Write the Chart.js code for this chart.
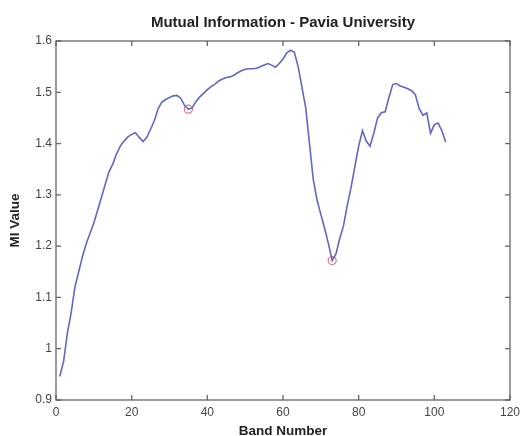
<!DOCTYPE html>
<html>
<head>
<meta charset="utf-8">
<script src="https://cdn.jsdelivr.net/npm/chart.js@4/dist/chart.umd.min.js"></script>
<style>
  body { margin: 0; background: #fff; }
  canvas { display: block; }
</style>
</head>
<body>
<canvas id="miChart" width="531" height="436"></canvas>
<script>
// band index 1..103 (Pavia University)
const bands = Array.from({ length: 103 }, (_, i) => i + 1);

// MI value per band
const miValues = [
  0.946, 0.975, 1.030, 1.070, 1.120, 1.150, 1.180, 1.205, 1.225, 1.245,
  1.270, 1.295, 1.320, 1.345, 1.360, 1.380, 1.395, 1.405, 1.413, 1.418,
  1.421, 1.412, 1.404, 1.412, 1.428, 1.445, 1.468, 1.481, 1.486, 1.490,
  1.493, 1.494, 1.488, 1.474, 1.467, 1.470, 1.482, 1.491, 1.498, 1.505,
  1.511, 1.516, 1.522, 1.526, 1.529, 1.530, 1.533, 1.538, 1.542, 1.545,
  1.546, 1.546, 1.547, 1.550, 1.553, 1.556, 1.553, 1.549, 1.556, 1.565,
  1.577, 1.582, 1.578, 1.550, 1.510, 1.470, 1.400, 1.330, 1.290, 1.262,
  1.235, 1.205, 1.172, 1.185, 1.215, 1.240, 1.280, 1.315, 1.355, 1.395,
  1.425, 1.405, 1.395, 1.420, 1.450, 1.460, 1.462, 1.490, 1.515, 1.517,
  1.512, 1.510, 1.507, 1.503, 1.495, 1.468, 1.455, 1.460, 1.420, 1.437,
  1.440, 1.425, 1.403
];

// circled minima
const markerBands = [35, 73];
const markerValues = [1.467, 1.172];

const xTicks = [0, 20, 40, 60, 80, 100, 120];
const yTicks = [0.9, 1, 1.1, 1.2, 1.3, 1.4, 1.5, 1.6];

const fontFamily = '"Liberation Sans", Arial, Helvetica, sans-serif';

// matlab style box with inward ticks
const boxPlugin = {
  id: 'box',
  afterDraw(chart) {
    const { ctx, chartArea: a, scales } = chart;
    ctx.save();
    ctx.strokeStyle = '#666';
    ctx.lineWidth = 1.3;
    ctx.strokeRect(a.left, a.top, a.right - a.left, a.bottom - a.top);
    ctx.beginPath();
    xTicks.forEach(v => {
      const px = scales.x.getPixelForValue(v);
      ctx.moveTo(px, a.bottom); ctx.lineTo(px, a.bottom - 5);
      ctx.moveTo(px, a.top); ctx.lineTo(px, a.top + 5);
    });
    yTicks.forEach(v => {
      const py = scales.y.getPixelForValue(v);
      ctx.moveTo(a.left, py); ctx.lineTo(a.left + 5, py);
      ctx.moveTo(a.right, py); ctx.lineTo(a.right - 5, py);
    });
    ctx.stroke();
    ctx.restore();
  }
};

new Chart(document.getElementById('miChart').getContext('2d'), {
  type: 'line',
  data: {
    datasets: [{
      data: bands.map((b, i) => ({ x: b, y: miValues[i] })),
      borderColor: '#6266c4',
      borderWidth: 1.6,
      pointRadius: 0,
      tension: 0
    }, {
      data: markerBands.map((b, i) => ({ x: b, y: markerValues[i] })),
      showLine: false,
      pointRadius: 4,
      pointBackgroundColor: 'rgba(0,0,0,0)',
      pointBorderColor: '#e07272',
      pointBorderWidth: 1.2
    }]
  },
  options: {
    responsive: false,
    animation: false,
    devicePixelRatio: 1,
    layout: { padding: { left: 0, right: 21, top: 0, bottom: 0 } },
    plugins: {
      legend: { display: false },
      tooltip: { enabled: false },
      title: {
        display: true,
        text: 'Mutual Information - Pavia University',
        fullSize: false,
        color: '#222',
        font: { family: fontFamily, size: 15, weight: 'bold' },
        padding: { top: 14, bottom: 9 }
      }
    },
    scales: {
      x: {
        type: 'linear',
        min: 0,
        max: 120,
        afterBuildTicks: s => { s.ticks = xTicks.map(v => ({ value: v })); },
        afterFit: s => { s.height = 36; },
        grid: { display: false, drawTicks: false },
        border: { display: false },
        ticks: {
          color: '#444',
          padding: 5,
          maxRotation: 0,
          callback: v => String(v),
          font: { family: fontFamily, size: 12 }
        },
        title: {
          display: true,
          text: 'Band Number',
          color: '#222',
          font: { family: fontFamily, size: 13.5, weight: 'bold' },
          padding: { top: 0, bottom: -3 }
        }
      },
      y: {
        type: 'linear',
        min: 0.9,
        max: 1.6,
        afterBuildTicks: s => { s.ticks = yTicks.map(v => ({ value: v })); },
        afterFit: s => { s.width = 56; },
        grid: { display: false, drawTicks: false },
        border: { display: false },
        ticks: {
          color: '#444',
          padding: 4,
          callback: v => String(v),
          font: { family: fontFamily, size: 12 }
        },
        title: {
          display: true,
          text: 'MI Value',
          color: '#222',
          font: { family: fontFamily, size: 13.5, weight: 'bold' },
          padding: { top: 7, bottom: 0 }
        }
      }
    }
  },
  plugins: [boxPlugin]
});
</script>
</body>
</html>
